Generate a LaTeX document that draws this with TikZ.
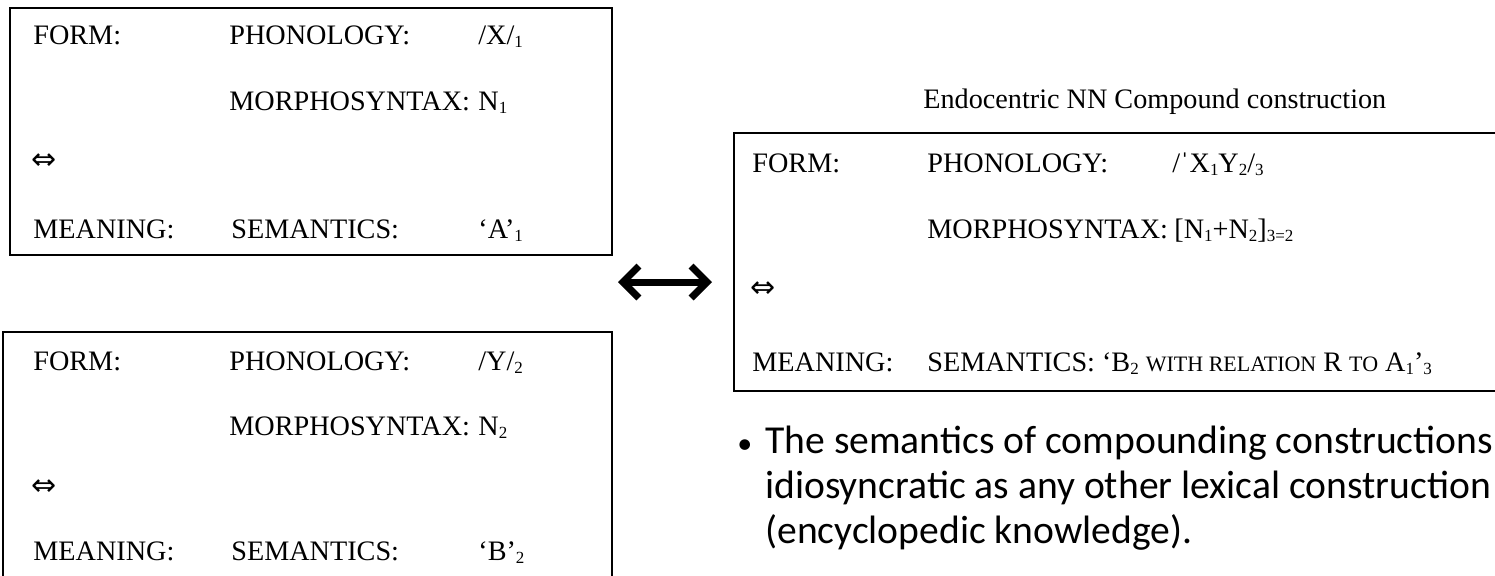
\documentclass[tikz,border=0pt]{standalone}
\usepackage{fontspec}
\setmainfont{Liberation Serif}
\newfontfamily\bulletfont{Carlito}
\newfontfamily\dejavu{DejaVu Sans}
\usetikzlibrary{arrows.meta}
\newcommand{\fakesc}[1]{{\fontsize{11}{12}\selectfont #1}}
\newcommand{\idx}[1]{\raisebox{-0.25ex}{\fontsize{8.5}{9}\selectfont #1}}
\tikzset{
  entry/.style={anchor=base west, inner sep=0pt, font=\fontsize{14.1}{16}\selectfont},
  iff/.style={anchor=west, inner sep=0pt, font=\dejavu\fontsize{15}{16}\selectfont},
  frame/.style={draw=black, line width=0.8pt},
  bullet/.style={anchor=base west, inner sep=0pt, font=\bulletfont\fontsize{19.8}{22}\selectfont}
}

\begin{document}
\begin{tikzpicture}[x=0.5pt, y=-0.5pt]
        \useasboundingbox (0,0) rectangle (1495,575);
        % lexical construction X
        \begin{scope}[shift={(0,8)}]
            \draw[frame] (10,0) rectangle (612,247);
            \node[entry] (formA) at (33,36) {FORM:};
            \node[entry] (phonA) at (229,36) {PHONOLOGY:};
            \node[entry] (phonvalA) at (478,36) {/X/\idx{1}};
            \node[entry] (morphA) at (229,102) {MORPHOSYNTAX:};
            \node[entry] (morphvalA) at (478,102) {N\idx{1}};
            \node[iff] (iffA) at (31,154) {⇔};
            \node[entry] (meanA) at (33,230) {MEANING:};
            \node[entry] (semA) at (231,230) {SEMANTICS:};
            \node[entry] (semvalA) at (478,230) {‘A’\idx{1}};
        \end{scope}
        % lexical construction Y
        \begin{scope}[shift={(0,332)}]
            \draw[frame] (3,0) rectangle (612,250);
            \node[entry] (formB) at (33,38) {FORM:};
            \node[entry] (phonB) at (229,38) {PHONOLOGY:};
            \node[entry] (phonvalB) at (478,38) {/Y/\idx{2}};
            \node[entry] (morphB) at (229,103) {MORPHOSYNTAX:};
            \node[entry] (morphvalB) at (478,103) {N\idx{2}};
            \node[iff] (iffB) at (31,156) {⇔};
            \node[entry] (meanB) at (33,228) {MEANING:};
            \node[entry] (semB) at (231,228) {SEMANTICS:};
            \node[entry] (semvalB) at (478,228) {‘B’\idx{2}};
        \end{scope}
        % compound construction
        \node[entry] (title) at (923,108) {Endocentric NN Compound construction};
        \begin{scope}[shift={(0,133)}]
            \draw[frame] (734,0) rectangle (1510,258);
            \node[entry] (formC) at (752,39) {FORM:};
            \node[entry] (phonC) at (927,39) {PHONOLOGY:};
            \node[entry] (phonvalC) at (1172,39) {/ˈX\idx{1}Y\idx{2}/\idx{3}};
            \node[entry] (morphC) at (927,105) {MORPHOSYNTAX:};
            \node[entry] (morphvalC) at (1174,105) {[N\idx{1}+N\idx{2}]\idx{3=2}};
            \node[iff] (iffC) at (750,157) {⇔};
            \node[entry] (meanC) at (752,238) {MEANING:};
            \node[entry] (semC) at (927,238) {SEMANTICS: ‘B\idx{2} \fakesc{WITH RELATION} R \fakesc{TO} A\idx{1}’\idx{3}};
        \end{scope}
        \coordinate (arrL) at (618,282);
        \coordinate (arrR) at (712,282);
        \draw[line width=3.5pt, {Straight Barb[length=8pt, width=16pt]}-{Straight Barb[length=8pt, width=16pt]}] (arrL) -- (arrR);
        % comment on the semantics
        \node[bullet] (dot) at (737,453) {\fontsize{15}{16}\selectfont •};
        \node[bullet] (line1) at (765,453) {The semantics of compounding constructions};
        \node[bullet] (line2) at (765,498) {idiosyncratic as any other lexical construction};
        \node[bullet] (line3) at (765,543) {(encyclopedic knowledge).};
\end{tikzpicture}
\end{document}
